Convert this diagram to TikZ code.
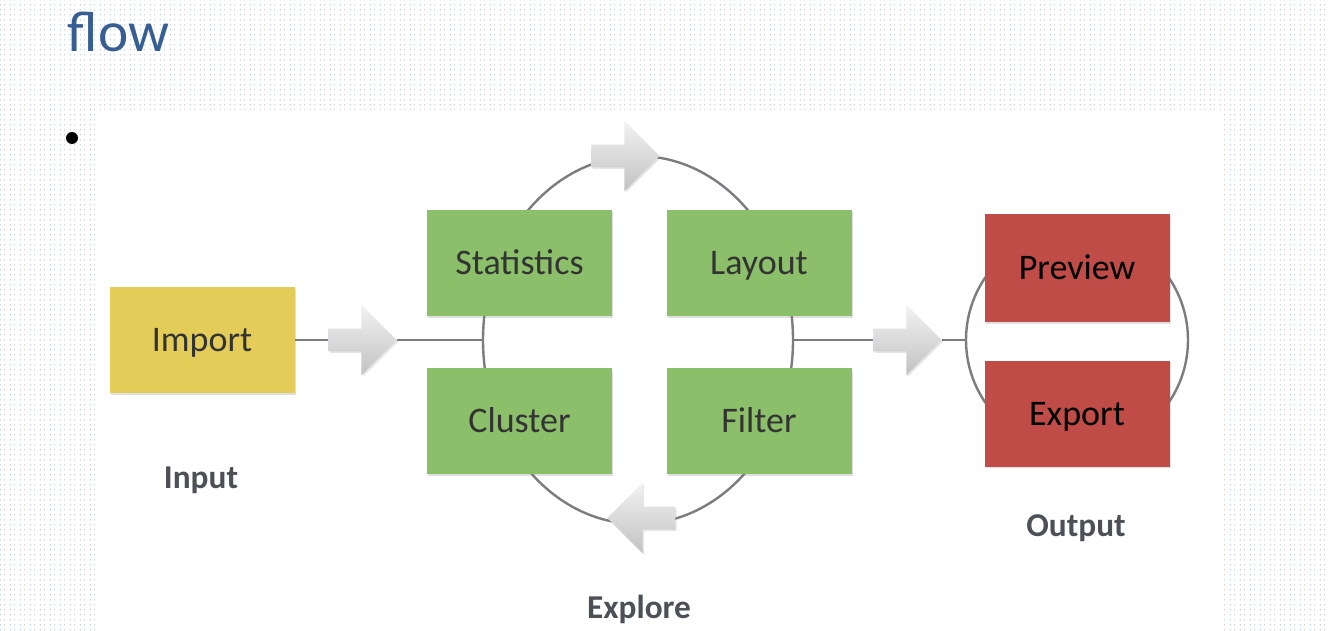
\documentclass[tikz,border=0pt]{standalone}
\usepackage{fontspec}
\setmainfont{Carlito}
\usetikzlibrary{positioning,shapes.geometric,shapes.arrows,shadows,patterns}
\definecolor{titleblue}{HTML}{375E93}
\definecolor{dotblue}{HTML}{4F8FD0}
\definecolor{dotgrey}{HTML}{8A8A8A}
\definecolor{importyellow}{HTML}{E3CD58}
\definecolor{leafgreen}{HTML}{8BBF6A}
\definecolor{brickred}{HTML}{BF4C47}
\definecolor{ringgrey}{HTML}{7A7C80}
\definecolor{labelgrey}{HTML}{4D5057}
\pgfdeclarepatterninherentlycolored{slidedots}{\pgfpointorigin}{\pgfqpoint{7.5pt}{3.75pt}}{\pgfqpoint{7.5pt}{3.75pt}}{%
  \pgfsetfillcolor{dotblue}\pgfpathcircle{\pgfqpoint{1pt}{1pt}}{0.4pt}\pgfusepath{fill}%
  \pgfsetfillcolor{dotgrey}\pgfpathcircle{\pgfqpoint{4.75pt}{1pt}}{0.4pt}\pgfusepath{fill}}
\tikzset{
  blk/.style={rectangle, fill=#1, minimum width=138.75pt, minimum height=79.5pt,
              font=\fontsize{27}{30}\selectfont, text=black!80,
              text height=17.5pt, text depth=0pt,
              drop shadow={shadow xshift=1pt, shadow yshift=-1.2pt, opacity=0.25}},
  ring/.style={draw=ringgrey, line width=1.8pt},
  link/.style={draw=ringgrey, line width=1.8pt},
  flowarr/.style={single arrow, draw=none, inner xsep=0pt, inner ysep=8.25pt,
                  single arrow head extend=18pt, minimum height=51pt,
                  top color=black!5, bottom color=black!24,
                  drop shadow={shadow xshift=1pt, shadow yshift=-1.2pt, opacity=0.2}},
  grouplbl/.style={font=\fontsize{25}{30}\selectfont\bfseries, text=labelgrey},
}
\begin{document}
\begin{tikzpicture}[x=0.75pt, y=-0.75pt]
  \useasboundingbox (0,0) rectangle (1329,631);
  \fill[pattern=slidedots] (0,0) rectangle (1329,631);
  \fill[white] (96,110) rectangle (1222,631);

  % title and bullet
  \node[anchor=base west, font=\fontsize{43}{50}\selectfont, text=titleblue] (title) at (63,52) {flow};
  \node[circle, fill=black, inner sep=0pt, minimum size=9pt] (bullet) at (72,138) {};

  \node[ring, ellipse, minimum width=232.5pt, minimum height=276pt] (explore) at (638,340) {};
  \node[ring, circle, minimum size=166.5pt] (outring) at (1077,340) {};

  \node[blk=importyellow] (import) at (202,340) {Import};
  \node[blk=leafgreen] (stats) at (519.5,263) {Statistics};
  \node[blk=leafgreen] (layout) at (759,263) {Layout};
  \node[blk=leafgreen] (cluster) at (519.5,421) {Cluster};
  \node[blk=leafgreen] (filter) at (759,421) {Filter};
  \node[blk=brickred, text=black, minimum height=81pt] (preview) at (1077,268) {Preview};
  \node[blk=brickred, text=black] (export) at (1077,413.5) {Export};

  \node[flowarr] (inarr) at (357,340) {};
  \node[flowarr] (outarr) at (902,340) {};
  \node[flowarr] (toparr) at (620,156) {};
  \node[flowarr, shape border rotate=180] (botarr) at (647,518) {};

  \draw[link] (import.east) -- (inarr.tail);
  \draw[link] (inarr.tip) -- (explore.west);
  \draw[link] (explore.east) -- (outarr.tail);
  \draw[link] (outarr.tip) -- (outring.west);

  \node[grouplbl] (inputlbl) at (201,480) {Input};
  \node[grouplbl] (explorelbl) at (639,609) {Explore};
  \node[grouplbl] (outputlbl) at (1076,528) {Output};
\end{tikzpicture}
\end{document}
